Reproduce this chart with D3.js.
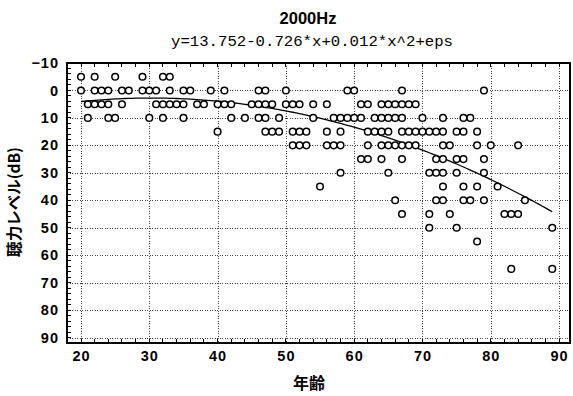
<!DOCTYPE html>
<html><head><meta charset="utf-8">
<script src="https://cdn.jsdelivr.net/npm/d3@7"></script>
<style>body{margin:0;background:#fff}</style>
</head><body><svg id="c" width="573" height="396"></svg>
<script>
// ---- data ----
const titleText = "2000Hz";
const formulaText = "y=13.752-0.726*x+0.012*x^2+eps";
const coef = [13.752, -0.726, 0.012];
const xTicks = [20, 30, 40, 50, 60, 70, 80, 90];
const yTicks = [-10, 0, 10, 20, 30, 40, 50, 60, 70, 80, 90];
const levels = [-5, 0, 5, 10, 15, 20, 25, 30, 35, 40, 45, 50, 55, 65];
const agesByLevel = [
  [20, 22, 25, 29, 32, 33],
  [20, 22, 23, 24, 26, 27, 29, 30, 31, 33, 35, 36, 39, 41, 46, 47, 50, 59, 60, 67, 79],
  [21, 22, 23, 24, 26, 31, 32, 33, 34, 35, 37, 38, 40, 41, 42, 45, 46, 47, 48, 50, 51, 52, 54, 56, 61, 62, 64, 65, 66, 67, 68, 69],
  [21, 24, 25, 30, 32, 35, 42, 44, 46, 47, 49, 54, 57, 58, 59, 60, 61, 63, 64, 65, 66, 67, 70, 73, 76, 77],
  [40, 47, 48, 49, 51, 52, 53, 56, 58, 62, 63, 64, 65, 67, 68, 69, 70, 71, 72, 73, 75, 76, 78],
  [51, 52, 53, 56, 57, 58, 62, 64, 65, 66, 67, 68, 69, 73, 74, 78, 80, 84],
  [61, 62, 64, 67, 72, 73, 75, 76, 79],
  [58, 65, 71, 72, 73, 75, 79],
  [55, 73, 76, 78, 81],
  [66, 72, 73, 76, 77, 79, 85],
  [67, 71, 74, 82, 83, 84],
  [71, 75, 89],
  [78],
  [83, 89]
];
const fitRange = [20, 89];

// ---- chart ----
const svg = d3.select("#c");
const L = 67, R = 570, T = 63, B = 343;
const x = d3.scaleLinear().domain([17.95, 91.6]).range([L, R]);
const y = d3.scaleLinear().domain([-10, 92]).range([T, B]);
const numFont = "'Liberation Sans Narrow','Liberation Sans',Arial,sans-serif";
const jpFont = "'Noto Sans CJK JP',sans-serif";

// grid
const grid = svg.append("g").attr("stroke", "#444").attr("stroke-width", 1).attr("stroke-dasharray", "1,1.5").attr("shape-rendering", "crispEdges");
grid.selectAll("line.v").data(xTicks).join("line").attr("class", "v")
  .attr("x1", d => Math.round(x(d)) + 0.5).attr("x2", d => Math.round(x(d)) + 0.5).attr("y1", T).attr("y2", B);
grid.selectAll("line.h").data(yTicks.filter(d => d > -10)).join("line").attr("class", "h")
  .attr("y1", d => Math.round(y(d)) + 0.5).attr("y2", d => Math.round(y(d)) + 0.5).attr("x1", L).attr("x2", R);

// minor ticks (inward)
const minorX = d3.range(20, 91.6, 2);
const minorY = d3.range(-10, 92.1, 2);
const tk = svg.append("g").attr("stroke", "#000").attr("stroke-width", 1).attr("shape-rendering", "crispEdges");
tk.selectAll("line.tb").data(minorX).join("line").attr("class", "tb")
  .attr("x1", d => x(d)).attr("x2", d => x(d)).attr("y1", B).attr("y2", B - 4);
tk.selectAll("line.tt").data(minorX).join("line").attr("class", "tt")
  .attr("x1", d => x(d)).attr("x2", d => x(d)).attr("y1", T).attr("y2", T + 4);
tk.selectAll("line.tl").data(minorY).join("line").attr("class", "tl")
  .attr("y1", d => y(d)).attr("y2", d => y(d)).attr("x1", L).attr("x2", L + 4);

// frame
const fr = svg.append("g").attr("stroke", "#000").attr("shape-rendering", "crispEdges");
fr.append("line").attr("x1", L - 1).attr("x2", R + 1).attr("y1", T).attr("y2", T).attr("stroke-width", 2.5);
fr.append("line").attr("x1", L - 1).attr("x2", R + 1).attr("y1", B).attr("y2", B).attr("stroke-width", 2.5);
fr.append("line").attr("x1", L).attr("x2", L).attr("y1", T).attr("y2", B).attr("stroke-width", 2.5);
fr.append("line").attr("x1", R).attr("x2", R).attr("y1", T).attr("y2", B).attr("stroke-width", 1.5);

// axis labels via d3 axes
const ax = svg.append("g").attr("transform", `translate(0,${B})`)
  .call(d3.axisBottom(x).tickValues(xTicks).tickSize(0).tickPadding(8));
const ay = svg.append("g").attr("transform", `translate(${L},0)`)
  .call(d3.axisLeft(y).tickValues(yTicks).tickSize(0).tickPadding(8));
[ax, ay].forEach(g => {
  g.select(".domain").remove();
  g.selectAll("text").attr("font-family", numFont).attr("font-weight", "bold")
    .attr("font-size", 14.5).attr("fill", "#000").attr("letter-spacing", 1);
});

// fitted curve
const curvePts = d3.range(fitRange[0], fitRange[1] + 0.001, 0.5).map(a => [a, coef[0] + coef[1] * a + coef[2] * a * a]);
svg.append("path").datum(curvePts)
  .attr("d", d3.line().x(d => x(d[0])).y(d => y(d[1])))
  .attr("fill", "none").attr("stroke", "#000").attr("stroke-width", 1.3);

// points
const pts = [];
levels.forEach((lv, i) => agesByLevel[i].forEach(a => pts.push([a, lv])));
svg.append("g").selectAll("circle").data(pts).join("circle")
  .attr("cx", d => x(d[0])).attr("cy", d => y(d[1])).attr("r", 3.3)
  .attr("fill", "#fff").attr("stroke", "#000").attr("stroke-width", 1.5);

// titles
svg.append("text").attr("x", 308).attr("y", 24).attr("text-anchor", "middle")
  .attr("font-family", numFont).attr("font-weight", "bold").attr("font-size", 16.5).text(titleText);
svg.append("text").attr("x", 312).attr("y", 46).attr("text-anchor", "middle")
  .attr("font-family", "'Liberation Mono','DejaVu Sans Mono',monospace").attr("font-size", 15)
  .attr("textLength", 282).attr("lengthAdjust", "spacingAndGlyphs").text(formulaText);
svg.append("text").attr("x", 309).attr("y", 389).attr("text-anchor", "middle")
  .attr("font-family", jpFont).attr("font-weight", "bold").attr("font-size", 16).text("年齢");
svg.append("text").attr("transform", "translate(20,202) rotate(-90)").attr("text-anchor", "middle")
  .attr("font-family", jpFont).attr("font-weight", "bold").attr("font-size", 15.5).text("聴力レベル(dB)");
</script></body></html>
